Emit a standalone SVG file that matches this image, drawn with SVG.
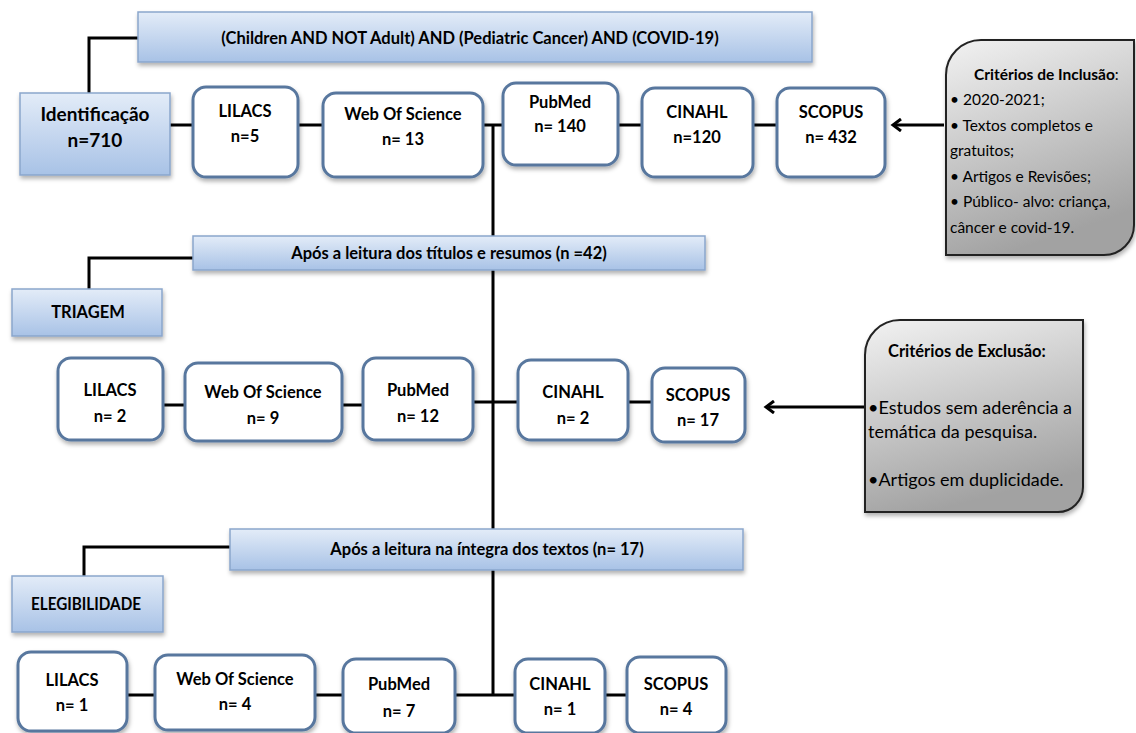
<svg xmlns="http://www.w3.org/2000/svg" width="1136" height="733" viewBox="0 0 1136 733">
<defs>
<linearGradient id="gBlue" x1="0" y1="0" x2="0" y2="1">
<stop offset="0" stop-color="#e3ecf8"/>
<stop offset="1" stop-color="#a8c2e6"/>
</linearGradient>
<linearGradient id="gGray" x1="0" y1="0" x2="0.3" y2="1">
<stop offset="0" stop-color="#f2f2f2"/>
<stop offset="1" stop-color="#a2a2a2"/>
</linearGradient>
<filter id="sh" x="-10%" y="-10%" width="130%" height="140%">
<feDropShadow dx="1" dy="3" stdDeviation="2" flood-color="#000" flood-opacity="0.3"/>
</filter>
<marker id="arr" markerWidth="14" markerHeight="14" refX="11" refY="7" orient="auto" markerUnits="userSpaceOnUse">
<path d="M3,1 L11,7 L3,13" fill="none" stroke="#000" stroke-width="3"/>
</marker>
<style>
.blue{fill:url(#gBlue);stroke:#8aa6cc;stroke-width:1.5;filter:url(#sh)}
.white{fill:#fff;stroke:#58779e;stroke-width:3;filter:url(#sh)}
.gray{fill:url(#gGray);stroke:#222;stroke-width:2;filter:url(#sh)}
.ln{fill:none;stroke:#000;stroke-width:3}
text{font-family:Lato,"Open Sans","Liberation Sans",sans-serif;fill:#000}
.b{font-weight:bold;font-size:16.5px;text-anchor:middle}
.bl{font-weight:bold;font-size:19px;text-anchor:middle}
.r{font-size:15.5px}
.x{font-size:18px}
</style>
</defs>

<g id="connectors">
<polyline class="ln" points="138,38 89,38 89,93"/>
<line class="ln" x1="170" y1="125" x2="193" y2="125"/>
<line class="ln" x1="298" y1="125" x2="323" y2="125"/>
<line class="ln" x1="483" y1="125" x2="503" y2="125"/>
<line class="ln" x1="618" y1="125" x2="642" y2="125"/>
<line class="ln" x1="753" y1="125" x2="777" y2="125"/>
<line class="ln" x1="493" y1="125" x2="493" y2="695"/>
<polyline class="ln" points="193,258 89,258 89,289"/>
<line class="ln" x1="163" y1="405" x2="185" y2="405"/>
<line class="ln" x1="342" y1="405" x2="363" y2="405"/>
<line class="ln" x1="473" y1="402" x2="518" y2="402"/>
<line class="ln" x1="628" y1="402" x2="652" y2="402"/>
<polyline class="ln" points="230,547 84,547 84,576"/>
<line class="ln" x1="127" y1="695" x2="155" y2="695"/>
<line class="ln" x1="315" y1="695" x2="343" y2="695"/>
<line class="ln" x1="455" y1="695" x2="515" y2="695"/>
<line class="ln" x1="605" y1="695" x2="627" y2="695"/>
<line class="ln" x1="944" y1="125" x2="893" y2="125" marker-end="url(#arr)"/>
<line class="ln" x1="865" y1="407" x2="766" y2="407" marker-end="url(#arr)"/>
</g>

<g id="query">
<rect class="blue" x="138" y="12" width="674" height="50"/>
<text class="b" x="470" y="44">(Children AND NOT Adult) AND (Pediatric Cancer) AND (COVID-19)</text>
</g>

<g id="identificacao">
<rect class="blue" x="20" y="93" width="150" height="82"/>
<text class="bl" x="95" y="121">Identificação</text>
<text class="bl" x="95" y="147">n=710</text>
</g>

<g id="r1-lilacs">
<rect class="white" x="193" y="87" width="105" height="90" rx="13"/>
<text class="b" x="245" y="117">LILACS</text>
<text class="b" x="245" y="142">n=5</text>
</g>
<g id="r1-wos">
<rect class="white" x="323" y="93" width="160" height="84" rx="13"/>
<text class="b" x="403" y="120">Web Of Science</text>
<text class="b" x="403" y="145">n= 13</text>
</g>
<g id="r1-pubmed">
<rect class="white" x="503" y="83" width="115" height="82" rx="13"/>
<text class="b" x="560" y="108">PubMed</text>
<text class="b" x="560" y="132">n= 140</text>
</g>
<g id="r1-cinahl">
<rect class="white" x="642" y="88" width="111" height="89" rx="13"/>
<text class="b" x="697" y="118">CINAHL</text>
<text class="b" x="697" y="143">n=120</text>
</g>
<g id="r1-scopus">
<rect class="white" x="777" y="88" width="108" height="89" rx="13"/>
<text class="b" x="831" y="118">SCOPUS</text>
<text class="b" x="831" y="143">n= 432</text>
</g>

<g id="inclusao">
<path class="gray" d="M981,40 H1134 V225 A30,30 0 0 1 1104,255 H946 V75 A35,35 0 0 1 981,40 Z"/>
<text class="r" x="974" y="80" font-size="16"><tspan font-weight="bold">Critérios de Inclusão</tspan>:</text>
<text class="r" x="950" y="105">• 2020-2021;</text>
<text class="r" x="950" y="131">• Textos completos e</text>
<text class="r" x="950" y="156">gratuitos;</text>
<text class="r" x="950" y="182">• Artigos e Revisões;</text>
<text class="r" x="950" y="207">• Público- alvo: criança,</text>
<text class="r" x="950" y="233">câncer e covid-19.</text>
</g>

<g id="triagem-query">
<rect class="blue" x="193" y="236" width="512" height="34"/>
<text class="b" x="449" y="259">Após a leitura dos títulos e resumos (n =42)</text>
</g>
<g id="triagem">
<rect class="blue" x="12" y="289" width="150" height="47"/>
<text class="b" x="88" y="318">TRIAGEM</text>
</g>

<g id="r2-lilacs">
<rect class="white" x="58" y="358" width="105" height="82" rx="13"/>
<text class="b" x="110" y="396">LILACS</text>
<text class="b" x="110" y="422">n= 2</text>
</g>
<g id="r2-wos">
<rect class="white" x="185" y="363" width="157" height="78" rx="13"/>
<text class="b" x="263" y="398">Web Of Science</text>
<text class="b" x="263" y="424">n= 9</text>
</g>
<g id="r2-pubmed">
<rect class="white" x="363" y="358" width="110" height="82" rx="13"/>
<text class="b" x="418" y="396">PubMed</text>
<text class="b" x="418" y="422">n= 12</text>
</g>
<g id="r2-cinahl">
<rect class="white" x="518" y="360" width="110" height="80" rx="13"/>
<text class="b" x="573" y="398">CINAHL</text>
<text class="b" x="573" y="424">n= 2</text>
</g>
<g id="r2-scopus">
<rect class="white" x="652" y="368" width="93" height="74" rx="13"/>
<text class="b" x="698" y="401">SCOPUS</text>
<text class="b" x="698" y="426">n= 17</text>
</g>

<g id="exclusao">
<path class="gray" d="M900,320 H1083 V487 A25,25 0 0 1 1058,512 H865 V355 A35,35 0 0 1 900,320 Z"/>
<text x="888" y="357" font-weight="bold" font-size="16.5">Critérios de Exclusão:</text>
<text class="x" x="868" y="414">•Estudos sem aderência a</text>
<text class="x" x="868" y="438">temática da pesquisa.</text>
<text class="x" x="868" y="486">•Artigos em duplicidade.</text>
</g>

<g id="eleg-query">
<rect class="blue" x="230" y="529" width="513" height="41"/>
<text class="b" x="487" y="555">Após a leitura na íntegra dos textos (n= 17)</text>
</g>
<g id="elegibilidade">
<rect class="blue" x="12" y="576" width="151" height="56"/>
<text class="b" x="86" y="610" textLength="110" lengthAdjust="spacingAndGlyphs">ELEGIBILIDADE</text>
</g>

<g id="r3-lilacs">
<rect class="white" x="18" y="652" width="109" height="79" rx="13"/>
<text class="b" x="72" y="686">LILACS</text>
<text class="b" x="72" y="711">n= 1</text>
</g>
<g id="r3-wos">
<rect class="white" x="155" y="655" width="160" height="75" rx="13"/>
<text class="b" x="235" y="685">Web Of Science</text>
<text class="b" x="235" y="710">n= 4</text>
</g>
<g id="r3-pubmed">
<rect class="white" x="343" y="659" width="112" height="74" rx="13"/>
<text class="b" x="399" y="690">PubMed</text>
<text class="b" x="399" y="717">n= 7</text>
</g>
<g id="r3-cinahl">
<rect class="white" x="515" y="659" width="90" height="74" rx="13"/>
<text class="b" x="560" y="690">CINAHL</text>
<text class="b" x="560" y="715">n= 1</text>
</g>
<g id="r3-scopus">
<rect class="white" x="627" y="657" width="99" height="76" rx="13"/>
<text class="b" x="676" y="690">SCOPUS</text>
<text class="b" x="676" y="715">n= 4</text>
</g>
</svg>
